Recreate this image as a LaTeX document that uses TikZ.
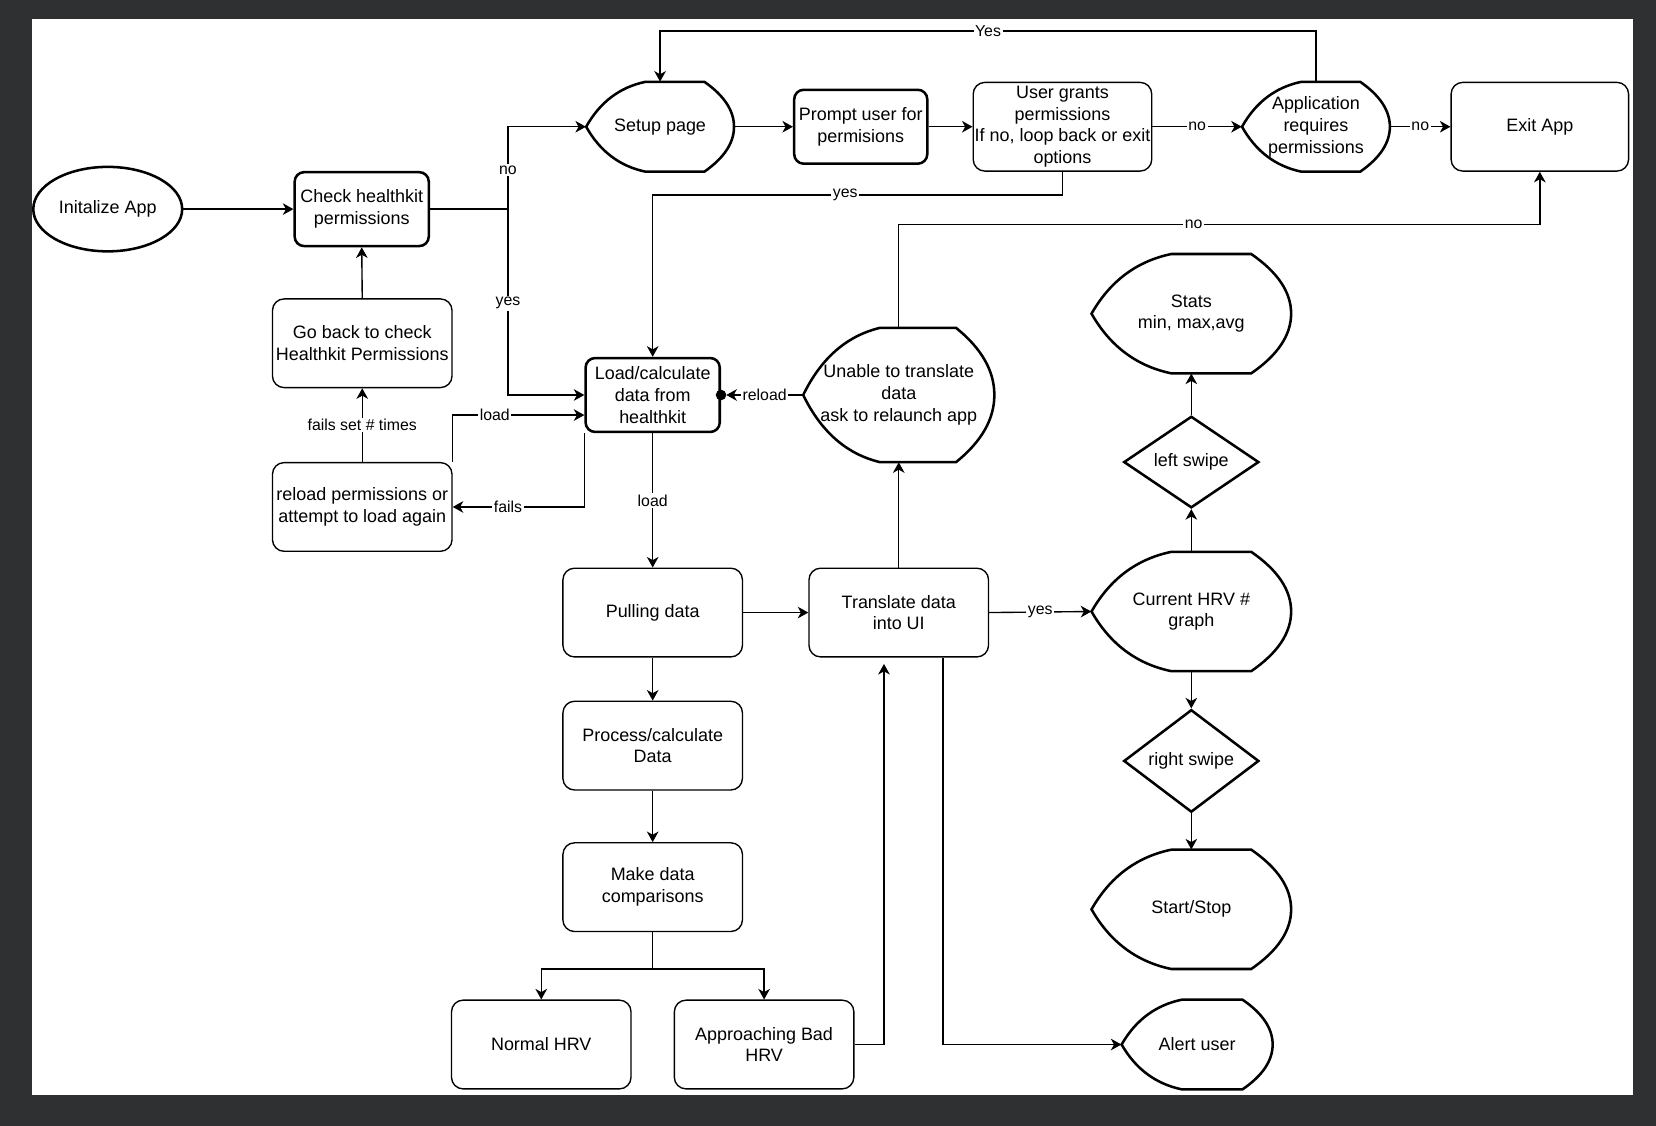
\documentclass[tikz,border=0pt]{standalone}
\usepackage{fontspec}
\setmainfont{Liberation Sans}
\usetikzlibrary{arrows.meta,shapes.geometric,calc}
\definecolor{bgdark}{HTML}{2F3031}
\newcommand{\nfont}{\fontsize{17}{20.5}\selectfont}
\newcommand{\lfont}{\fontsize{15}{17}\selectfont}
% display shape: #2 name, #3 x, #4 y, #5 w, #6 h, #7 text
\newcommand{\dispnode}[7][]{%
  \draw[dsty,#1] ({#3-0.5*#5},{#4})
    .. controls ({#3-0.4067*#5},{#4-0.2733*#6}) and ({#3-0.2733*#5},{#4-0.44*#6}) .. ({#3-0.1*#5},{#4-0.5*#6})
    -- ({#3+0.3*#5},{#4-0.5*#6})
    .. controls ({#3+0.4333*#5},{#4-0.3467*#6}) and ({#3+0.5*#5},{#4-0.18*#6}) .. ({#3+0.5*#5},{#4})
    .. controls ({#3+0.5*#5},{#4+0.18*#6}) and ({#3+0.4333*#5},{#4+0.3467*#6}) .. ({#3+0.3*#5},{#4+0.5*#6})
    -- ({#3-0.1*#5},{#4+0.5*#6})
    .. controls ({#3-0.2733*#5},{#4+0.44*#6}) and ({#3-0.4067*#5},{#4+0.2733*#6}) .. ({#3-0.5*#5},{#4}) -- cycle;
  \node[txt, minimum width=#5, minimum height=#6] (#2) at (#3,#4) {#7};
}
\begin{document}
\begin{tikzpicture}[x=1pt,y=-1pt,
  thinl/.style={line width=1.3pt},
  thickl/.style={line width=2.4pt},
  rbox/.style={draw, thinl, rounded corners=11pt, minimum width=170, minimum height=84, align=center, inner sep=0pt, font=\nfont},
  tbox/.style={draw, thickl, rounded corners=9pt, minimum width=127, minimum height=70, align=center, inner sep=0pt, font=\nfont},
  txt/.style={align=center, inner sep=0pt, font=\nfont},
  dsty/.style={thickl, line join=miter},
  dmd/.style={draw, thickl, diamond, minimum width=128, minimum height=85, inner sep=0pt, font=\nfont},
  arr/.style={thinl, -{Stealth[length=10pt,width=11pt,inset=3pt]}},
  ln/.style={thinl},
  lbl/.style={fill=white, inner sep=1.5pt, font=\lfont}]

\fill[bgdark] (0,0) rectangle (1568,1066);
\fill[white] (30,18) rectangle (1546,1037);
\useasboundingbox (0,0) rectangle (1568,1066);

% nodes
\node[draw, thickl, ellipse, minimum width=141, minimum height=80, inner sep=0pt, font=\nfont] (initapp) at (102,198) {Initalize App};
\node[tbox] (check) at (342.5,198) {Check healthkit\\permissions};
\node[rbox] (goback) at (343,325) {Go back to check\\Healthkit Permissions};
\node[rbox] (reloadp) at (343,480) {reload permissions or\\attempt to load again};
\dispnode{setup}{625}{120}{140}{85}{Setup page}
\node[tbox, minimum width=126] (prompt) at (815,120) {Prompt user for\\permisions};
\node[rbox, minimum width=169] (grants) at (1006,120) {User grants\\permissions\\If no, loop back or exit\\options};
\dispnode{appreq}{1246}{120}{140}{85}{Application\\requires\\permissions}
\node[rbox, minimum width=168] (exitapp) at (1458,120) {Exit App};
\node[tbox] (load) at (618,374) {Load/calculate\\data from\\healthkit};
\dispnode{unable}{851}{374}{181}{127}{Unable to translate\\data\\ask to relaunch app}
\node[rbox] (pulling) at (618,580) {Pulling data};
\node[rbox] (transl) at (851,580) {Translate data\\into UI};
\node[rbox] (process) at (618,706) {Process/calculate\\Data};
\node[rbox] (compare) at (618,840) {Make data\\comparisons};
\node[rbox] (normal) at (512.5,989) {Normal HRV};
\node[rbox] (approach) at (723.5,989) {Approaching Bad\\HRV};
\dispnode{stats}{1128}{297}{189}{113}{Stats\\min, max,avg}
\node[dmd] (leftsw) at (1128,437.5) {left swipe};
\dispnode{current}{1128}{579}{189}{113}{Current HRV \#\\graph}
\node[dmd] (rightsw) at (1128,720.5) {right swipe};
\dispnode{startstop}{1128}{861}{189}{113}{Start/Stop}
\dispnode{alert}{1133.5}{989}{143}{85}{Alert user}

% connectors
\draw[arr] (initapp.east) -- (check.west);
\coordinate (j1) at (481,198);
\draw[ln] (check.east) -- (j1);
\draw[arr] (j1) |- node[lbl,pos=0.237]{no} (setup.west);
\draw[arr] (j1) |- node[lbl,pos=0.253]{yes} (load.west);
\draw[arr] (setup.east) -- (prompt.west);
\draw[arr] (prompt.east) -- (grants.west);
\draw[arr] (grants.east) -- node[lbl]{no} (appreq.west);
\draw[arr] (appreq.east) -- node[lbl]{no} (exitapp.west);
\draw[arr] (appreq.north) -- ++(0,-48) -| node[lbl,pos=0.25]{Yes} (setup.north);
\draw[arr] (grants.south) -- ++(0,22) -| node[lbl,pos=0.265]{yes} (load.north);
\draw[arr] (unable.north) -- ++(0,-98) -| node[lbl,pos=0.23]{no} (exitapp.south);
\draw[arr] (unable.west) -- node[lbl]{reload} ($(load.east)+(5,0)$);
\fill (load.east) circle (5pt);
\draw[arr] (goback.north) -- (check.south);
\draw[arr] (reloadp.north) -- node[lbl]{fails set \# times} (goback.south);
\draw[arr] (reloadp.north east) |- node[lbl,pos=0.66]{load} ($(load.west)+(0,19)$);
\draw[arr] (load.south west) |- node[lbl,pos=0.79]{fails} (reloadp.east);
\draw[arr] (load.south) -- node[lbl]{load} (pulling.north);
\draw[arr] (pulling.east) -- (transl.west);
\draw[arr] (transl.east) -- node[lbl]{yes} (current.west);
\draw[arr] (transl.north) -- (unable.south);
\draw[arr] (pulling.south) -- (process.north);
\draw[arr] (process.south) -- (compare.north);
\draw[arr] (compare.south) -- ++(0,35) -| (normal.north);
\draw[arr] (compare.south) -- ++(0,35) -| (approach.north);
\draw[arr] (approach.east) -| ($(transl.south)+(-14,6)$);
\draw[arr] ($(transl.south)+(42,0)$) |- (alert.west);
\draw[arr] (current.north) -- (leftsw.south);
\draw[arr] (leftsw.north) -- (stats.south);
\draw[arr] (current.south) -- (rightsw.north);
\draw[arr] (rightsw.south) -- (startstop.north);
\end{tikzpicture}
\end{document}
